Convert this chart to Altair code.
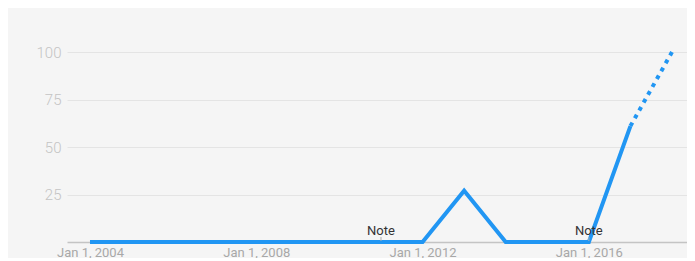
import altair as alt
import pandas as pd

years = list(range(2004, 2019))
values = [0, 0, 0, 0, 0, 0, 0, 0, 0, 27, 0, 0, 0, 61, 100]
note_years = [2011, 2016]
tick_years = [2004, 2008, 2012, 2016]
y_ticks = [25, 50, 75, 100]

solid = pd.DataFrame({"year": years[:-1], "value": values[:-1]})
dotted = pd.DataFrame({"year": years[-2:], "value": values[-2:]})
notes = pd.DataFrame({"year": note_years, "label": ["Note"] * len(note_years)})

LINE = "#2196f3"
xscale = alt.Scale(domain=[2003.447, 2018.361], nice=False, zero=False)
yscale = alt.Scale(domain=[0, 123.16], nice=False)

x_enc = alt.X(
    "year:Q",
    scale=xscale,
    axis=alt.Axis(
        values=tick_years,
        labelExpr="'Jan 1, ' + datum.value",
        grid=False,
        ticks=False,
        domain=True,
        domainColor="#c4c4c4",
        domainWidth=1.5,
        labelColor="#a8a8a8",
        labelFontSize=13,
        labelFont="Roboto",
        labelBaseline="top",
        labelPadding=4,
        title=None,
    ),
)
y_enc = alt.Y(
    "value:Q",
    scale=yscale,
    axis=alt.Axis(
        values=y_ticks,
        grid=True,
        gridColor="#e4e4e4",
        gridWidth=1,
        ticks=False,
        domain=False,
        labelColor="#c4c4c4",
        labelFontSize=15,
        labelFontWeight=300,
        labelFont="Roboto",
        labelPadding=6,
        title=None,
    ),
)

solid_line = alt.Chart(solid).mark_line(color=LINE, strokeWidth=4, strokeJoin="miter").encode(x=x_enc, y=y_enc)
dotted_line = alt.Chart(dotted).mark_line(
    color=LINE, strokeWidth=4, strokeDash=[4, 5], strokeCap="butt"
).encode(x="year:Q", y="value:Q")

note_text = alt.Chart(notes).mark_text(
    fontSize=13, font="Roboto", color="#333333", baseline="middle", align="center"
).encode(x="year:Q", y=alt.value(223), text="label:N")

note_tick = alt.Chart(notes).mark_rule(color="#b0b0b0", strokeWidth=1).encode(
    x="year:Q", y=alt.value(229), y2=alt.value(233)
)

chart = (
    alt.layer(solid_line, note_tick, note_text, dotted_line)
    .properties(
        width=620,
        height=234,
        autosize=alt.AutoSizeParams(type="none"),
        padding={"left": 59, "top": 0, "right": 0, "bottom": 16},
        background="#f5f5f5",
    )
    .configure_view(stroke=None)
)

chart.save("out.html", embed_options={"renderer": "svg", "actions": False})
